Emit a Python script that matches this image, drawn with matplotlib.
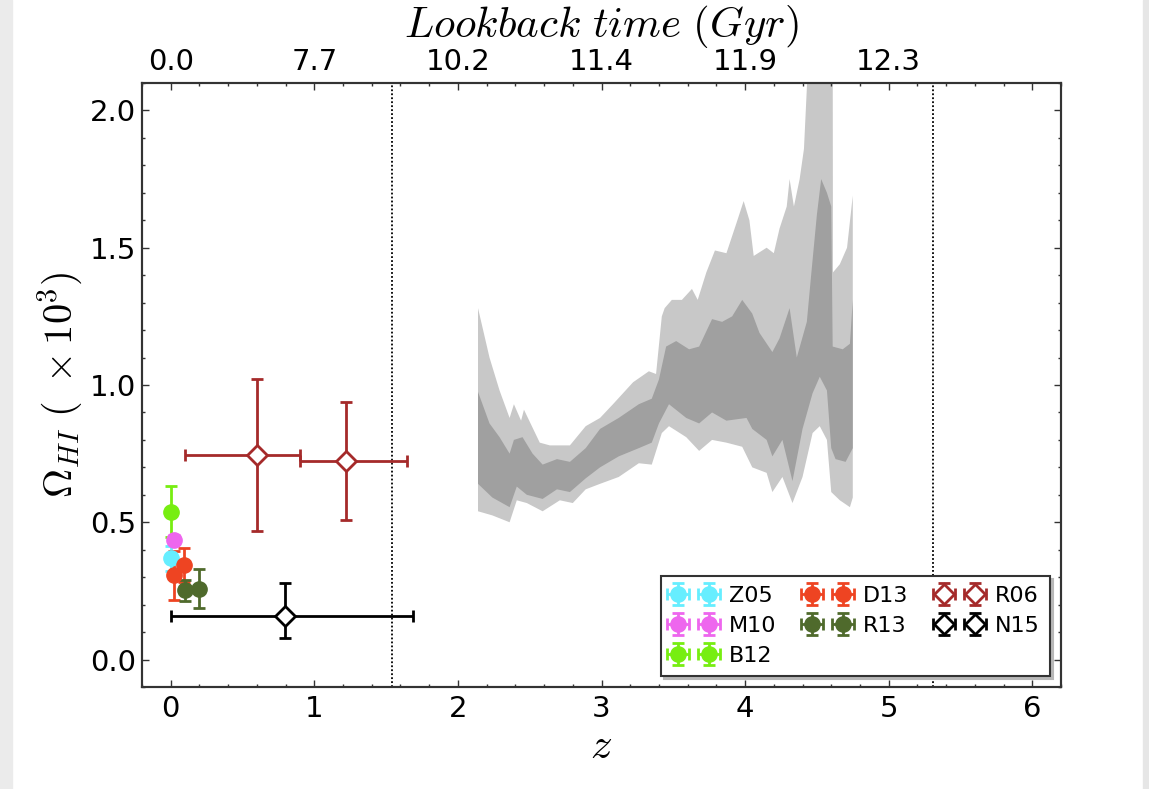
import numpy as np
import matplotlib
matplotlib.use("Agg")
import matplotlib.pyplot as plt
from matplotlib.patches import Rectangle

plt.rcParams['mathtext.fontset'] = 'cm'
plt.rcParams['font.family'] = ['DejaVu Sans']

# --- HI measurements (z, Omega_HI x 1e3) ---
z05_z = [0.0];  z05_om = [0.368]; z05_ex = [0.0]; z05_ey = [0.045]
m10_z = [0.023]; m10_om = [0.437]; m10_ex = [0.0]; m10_ey = [0.015]
b12_z = [0.0];  b12_om = [0.538]; b12_ex = [0.0]; b12_ey = [0.093]
d13_z = [0.023, 0.093]; d13_om = [0.307, 0.343]; d13_ex = [0.0, 0.0]; d13_ey = [0.089, 0.062]
r13_z = [0.097, 0.197]; r13_om = [0.252, 0.258]; r13_ex = [0.0, 0.0]; r13_ey = [0.037, 0.07]

r06_z = [0.60, 1.218]; r06_om = [0.745, 0.723]
r06_ex = [[0.50, 0.32], [0.30, 0.43]]
r06_ey = [0.278, 0.216]

n15_z = [0.793]; n15_om = [0.157]
n15_ex = [[0.793], [0.897]]
n15_ey = [[0.079], [0.123]]

# --- band from the absorber sample ---
lu_z = [2.14, 2.22, 2.29, 2.36, 2.39, 2.44, 2.46, 2.57, 2.64, 2.78, 2.89, 2.99, 3.08,
        3.22, 3.33, 3.38, 3.42, 3.44, 3.49, 3.56, 3.63, 3.67, 3.73, 3.79, 3.87, 3.94,
        3.99, 4.03, 4.06, 4.15, 4.20, 4.24, 4.29, 4.31, 4.34, 4.38, 4.41, 4.45, 4.61,
        4.612, 4.66, 4.71, 4.75]
lu_om = [1.28, 1.10, 0.98, 0.88, 0.93, 0.87, 0.91, 0.79, 0.78, 0.78, 0.85, 0.88, 0.93,
         1.01, 1.05, 1.04, 1.25, 1.28, 1.31, 1.31, 1.35, 1.31, 1.41, 1.49, 1.48, 1.59,
         1.67, 1.60, 1.47, 1.50, 1.48, 1.57, 1.65, 1.75, 1.65, 1.75, 1.86, 2.30, 2.30,
         1.41, 1.44, 1.50, 1.69]

ll_z = [2.14, 2.24, 2.36, 2.41, 2.48, 2.59, 2.71, 2.80, 2.89, 2.99, 3.12, 3.26, 3.35,
        3.42, 3.47, 3.59, 3.68, 3.77, 3.87, 3.98, 4.05, 4.15, 4.19, 4.26, 4.33, 4.40,
        4.47, 4.52, 4.57, 4.60, 4.66, 4.73, 4.75]
ll_om = [0.54, 0.525, 0.50, 0.58, 0.57, 0.54, 0.58, 0.57, 0.62, 0.64, 0.665, 0.715, 0.71,
         0.825, 0.85, 0.81, 0.76, 0.80, 0.79, 0.775, 0.70, 0.68, 0.61, 0.665, 0.57, 0.665,
         0.825, 0.85, 0.80, 0.61, 0.58, 0.555, 0.59]

du_z = [2.14, 2.22, 2.29, 2.36, 2.39, 2.45, 2.52, 2.59, 2.69, 2.78, 2.89, 2.99, 3.12,
        3.26, 3.35, 3.40, 3.45, 3.52, 3.61, 3.68, 3.77, 3.84, 3.91, 3.98, 4.05, 4.10,
        4.19, 4.24, 4.31, 4.36, 4.43, 4.46, 4.50, 4.53, 4.57, 4.60, 4.61, 4.68, 4.73, 4.75]
du_om = [0.975, 0.86, 0.81, 0.75, 0.80, 0.81, 0.75, 0.71, 0.73, 0.72, 0.77, 0.84, 0.88,
         0.93, 0.95, 1.02, 1.14, 1.16, 1.13, 1.14, 1.24, 1.23, 1.25, 1.31, 1.26, 1.19,
         1.12, 1.17, 1.28, 1.10, 1.23, 1.40, 1.62, 1.75, 1.70, 1.65, 1.14, 1.13, 1.15, 1.31]

dl_z = [2.14, 2.24, 2.36, 2.41, 2.48, 2.59, 2.69, 2.78, 2.89, 2.99, 3.12, 3.26, 3.35,
        3.40, 3.47, 3.59, 3.68, 3.77, 3.87, 4.01, 4.05, 4.15, 4.19, 4.26, 4.33, 4.40,
        4.47, 4.52, 4.57, 4.60, 4.63, 4.70, 4.75]
dl_om = [0.64, 0.59, 0.555, 0.63, 0.60, 0.585, 0.62, 0.61, 0.66, 0.70, 0.74, 0.77, 0.79,
         0.86, 0.93, 0.88, 0.86, 0.90, 0.87, 0.88, 0.84, 0.80, 0.74, 0.80, 0.65, 0.84,
         0.97, 1.03, 0.98, 0.77, 0.73, 0.72, 0.77]

vlines_z = [1.543, 5.307]

top_ticks = [0, 1, 2, 3, 4, 5, 6]
top_labels = ['0.0', '7.7', '10.2', '11.4', '11.9', '12.3', '']

fig = plt.figure(figsize=(11.49, 7.89), dpi=100)
ax = fig.add_axes([0.1236, 0.1293, 0.7998, 0.7655])

# shaded band: outer (light) then inner (dark)
ax.fill(np.r_[lu_z, ll_z[::-1]], np.r_[lu_om, ll_om[::-1]], color='#c8c8c8', lw=0, zorder=1)
ax.fill(np.r_[du_z, dl_z[::-1]], np.r_[du_om, dl_om[::-1]], color='#a0a0a0', lw=0, zorder=1)

for zv in vlines_z:
    ax.axvline(zv, color='k', ls=(0, (1, 1.2)), lw=1.3, zorder=2)

ekw = dict(lw=2, capsize=4, capthick=2, ms=11)
ax.errorbar(z05_z, z05_om, xerr=z05_ex, yerr=z05_ey, fmt='o', color='#66eeff', mec='#66eeff', label='Z05', **ekw)
ax.errorbar(m10_z, m10_om, xerr=m10_ex, yerr=m10_ey, fmt='o', color='#ee66ee', mec='#ee66ee', label='M10', **ekw)
ax.errorbar(b12_z, b12_om, xerr=b12_ex, yerr=b12_ey, fmt='o', color='#77ee11', mec='#77ee11', label='B12', **ekw)
ax.errorbar(d13_z, d13_om, xerr=d13_ex, yerr=d13_ey, fmt='o', color='#ee4422', mec='#ee4422', label='D13', **ekw)
ax.errorbar(r13_z, r13_om, xerr=r13_ex, yerr=r13_ey, fmt='o', color='#4f6a2c', mec='#4f6a2c', label='R13', **ekw)
ax.errorbar(r06_z, r06_om, xerr=r06_ex, yerr=r06_ey, fmt='D', color='#a52a2a', mfc='white',
            mec='#a52a2a', mew=2, label='R06', lw=2, capsize=4, capthick=2, ms=10)
ax.errorbar(n15_z, n15_om, xerr=n15_ex, yerr=n15_ey, fmt='D', color='k', mfc='white',
            mec='k', mew=2, label='N15', lw=2, capsize=4, capthick=2, ms=10)

ax.set_xlim(-0.2, 6.2)
ax.set_ylim(-0.1, 2.1)
ax.set_xticks([0, 1, 2, 3, 4, 5, 6])
ax.set_yticks([0.0, 0.5, 1.0, 1.5, 2.0])
ax.set_yticklabels(['0.0', '0.5', '1.0', '1.5', '2.0'])
ax.set_xticks(np.arange(-0.2, 6.21, 0.2), minor=True)
ax.set_yticks(np.arange(-0.1, 2.11, 0.1), minor=True)
ax.tick_params(which='both', direction='in', right=True, top=False, color='#333333')
ax.tick_params(which='major', length=5, width=1, labelsize=21)
ax.tick_params(which='minor', length=2.5, width=1)
ax.tick_params(axis='x', pad=6)
ax.tick_params(axis='y', pad=4)
for sp in ax.spines.values():
    sp.set_linewidth(1.5)
    sp.set_color('#333333')

ax.set_xlabel(r'$z$', fontsize=31, labelpad=1)
ax.set_ylabel(r'$\Omega_{HI}\ (\ \times 10^3)$', fontsize=29, labelpad=4)

# lookback time axis along the top
ax2 = ax.twiny()
ax2.set_xlim(ax.get_xlim())
ax2.set_xticks(top_ticks)
ax2.set_xticklabels(top_labels)
ax2.set_xticks(np.arange(-0.2, 6.21, 0.2), minor=True)
ax2.tick_params(which='both', direction='in', color='#333333')
ax2.tick_params(which='major', length=5, width=1, labelsize=21, pad=5)
ax2.tick_params(which='minor', length=2.5, width=1)
ax2.set_xlabel(r'$Lookback\ time\ (Gyr)$', fontsize=31, labelpad=8)
for sp in ax2.spines.values():
    sp.set_linewidth(1.5)
    sp.set_color('#333333')

leg = ax.legend(loc='lower right', ncol=3, numpoints=2, fontsize=16,
                shadow={'color': '#b8b8b8', 'alpha': 1.0},
                fancybox=False, handlelength=2.0, columnspacing=1.3, handletextpad=0.6,
                borderpad=0.45, labelspacing=0.45, borderaxespad=0.5)
leg.get_frame().set_edgecolor('#333333')
leg.get_frame().set_linewidth(1.5)

# grey page edges
fig.patches.append(Rectangle((0, 0), 0.0105, 1, transform=fig.transFigure, color='#ebebeb', zorder=-1))
fig.patches.append(Rectangle((0.9948, 0), 0.0052, 1, transform=fig.transFigure, color='#e6e6e6', zorder=-1))

fig.savefig('out.png', dpi=100)
